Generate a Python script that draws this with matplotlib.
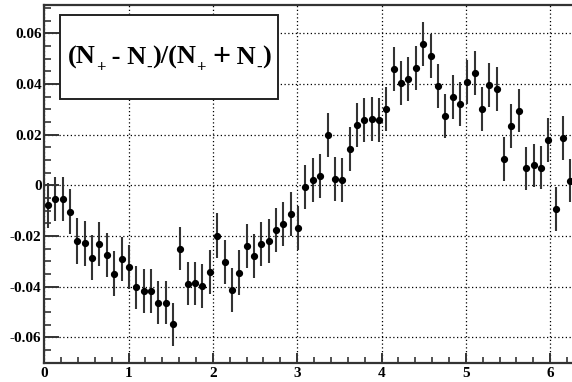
import numpy as np
import matplotlib
matplotlib.use("Agg")
import matplotlib.pyplot as plt
from matplotlib.patches import Rectangle
from matplotlib.ticker import MultipleLocator

# asymmetry per bin (72 bins over 0..2pi)
n_bins = 72
asym = [
    -0.0078, -0.0054, -0.0054, -0.0104, -0.0220, -0.0228, -0.0285, -0.0231,
    -0.0274, -0.0348, -0.0290, -0.0321, -0.0403, -0.0418, -0.0418, -0.0464,
    -0.0464, -0.0549, -0.0250, -0.0389, -0.0387, -0.0397, -0.0342, -0.0198,
    -0.0301, -0.0412, -0.0344, -0.0239, -0.0277, -0.0232, -0.0220, -0.0175,
    -0.0154, -0.0112, -0.0167, -0.0008, 0.0020, 0.0036, 0.0199, 0.0024,
    0.0020, 0.0142, 0.0237, 0.0258, 0.0261, 0.0257, 0.0303, 0.0461,
    0.0405, 0.0421, 0.0462, 0.0559, 0.0510, 0.0393, 0.0275, 0.0350,
    0.0321, 0.0408, 0.0445, 0.0301, 0.0397, 0.0382, 0.0104, 0.0234,
    0.0295, 0.0067, 0.0079, 0.0070, 0.0179, -0.0094, 0.0188, 0.0019,
]
asym_err = [
    0.0089, 0.0088, 0.0088, 0.0088, 0.0090, 0.0089, 0.0088, 0.0088,
    0.0087, 0.0087, 0.0087, 0.0087, 0.0086, 0.0086, 0.0086, 0.0085,
    0.0085, 0.0084, 0.0085, 0.0085, 0.0086, 0.0086, 0.0086, 0.0087,
    0.0087, 0.0087, 0.0087, 0.0087, 0.0087, 0.0087, 0.0087, 0.0087,
    0.0087, 0.0087, 0.0087, 0.0087, 0.0087, 0.0087, 0.0087, 0.0087,
    0.0087, 0.0087, 0.0087, 0.0087, 0.0087, 0.0087, 0.0087, 0.0087,
    0.0087, 0.0087, 0.0087, 0.0087, 0.0087, 0.0087, 0.0087, 0.0087,
    0.0087, 0.0087, 0.0087, 0.0087, 0.0087, 0.0087, 0.0085, 0.0086,
    0.0086, 0.0086, 0.0086, 0.0086, 0.0086, 0.0086, 0.0086, 0.0086,
]
# label "(N+ - N-)/(N+ + N-)" split into (text, style) pieces
label_parts = [("(N", "main"), ("+", "sub"), (" - N", "main"), ("-", "sub"),
               (")/(N", "main"), ("+", "sub"), (" ", "main"), ("+", "op"),
               (" N", "main"), ("-", "sub"), (")", "main")]

plt.rcParams["font.family"] = ["Liberation Serif", "DejaVu Serif"]
plt.rcParams["font.weight"] = "bold"

edges = np.linspace(0, 2 * np.pi, n_bins + 1)
centers = 0.5 * (edges[:-1] + edges[1:])

W, H = 572, 382
fig = plt.figure(figsize=(W / 100, H / 100), dpi=100)
ax = fig.add_axes([44.3 / W, 1 - 362.7 / H, 529.7 / W, 357.7 / H])

ax.errorbar(centers, asym, yerr=asym_err, fmt="o", color="black",
            ecolor="#333333", elinewidth=1.5, capsize=0, markersize=4.2,
            clip_on=True, zorder=3)

ax.set_xlim(0, 2 * np.pi)
ax.set_ylim(-0.07, 0.0712)

ax.xaxis.set_major_locator(MultipleLocator(1))
ax.xaxis.set_minor_locator(MultipleLocator(0.2))
ax.yaxis.set_major_locator(MultipleLocator(0.02))
ax.yaxis.set_minor_locator(MultipleLocator(0.005))
ax.set_yticks([-0.06, -0.04, -0.02, 0, 0.02, 0.04, 0.06])
ax.set_yticklabels(["-0.06", "-0.04", "-0.02", "0", "0.02", "0.04", "0.06"])

ax.grid(True, which="major", color="black", linestyle=(0, (1, 2)), linewidth=0.9)

ax.tick_params(axis="y", which="major", direction="in", length=11, width=1.4,
               pad=2, labelsize=11, color="#333333")
ax.tick_params(axis="y", which="minor", direction="in", length=5, width=1.2,
               color="#333333")
ax.tick_params(axis="x", which="major", direction="in", length=7.5, width=1.4,
               pad=3, labelsize=11, color="#333333")
ax.tick_params(axis="x", which="minor", direction="in", length=4, width=1.2,
               color="#333333")
for lab in ax.get_xticklabels() + ax.get_yticklabels():
    lab.set_fontweight("bold")

for side in ["left", "bottom", "top", "right"]:
    ax.spines[side].set_linewidth(1.6)
    ax.spines[side].set_color("#333333")

# label box
box = Rectangle((60 / W, 1 - 99 / H), 218 / W, 84.3 / H,
                transform=fig.transFigure, facecolor="white",
                edgecolor="#222222", linewidth=1.4, zorder=5)
fig.add_artist(box)

renderer = fig.canvas.get_renderer()
sizes = {"main": 19, "sub": 12, "op": 23}
offsets = {"main": 0, "sub": 8, "op": 1}
x_px = 68.0
base_px = 64.0
for txt, style in label_parts:
    t = fig.text(x_px / W, 1 - (base_px + offsets[style]) / H, txt,
                 fontsize=sizes[style], fontweight="bold",
                 ha="left", va="baseline", zorder=6)
    x_px = t.get_window_extent(renderer).x1

fig.savefig("out.png", dpi=100)
